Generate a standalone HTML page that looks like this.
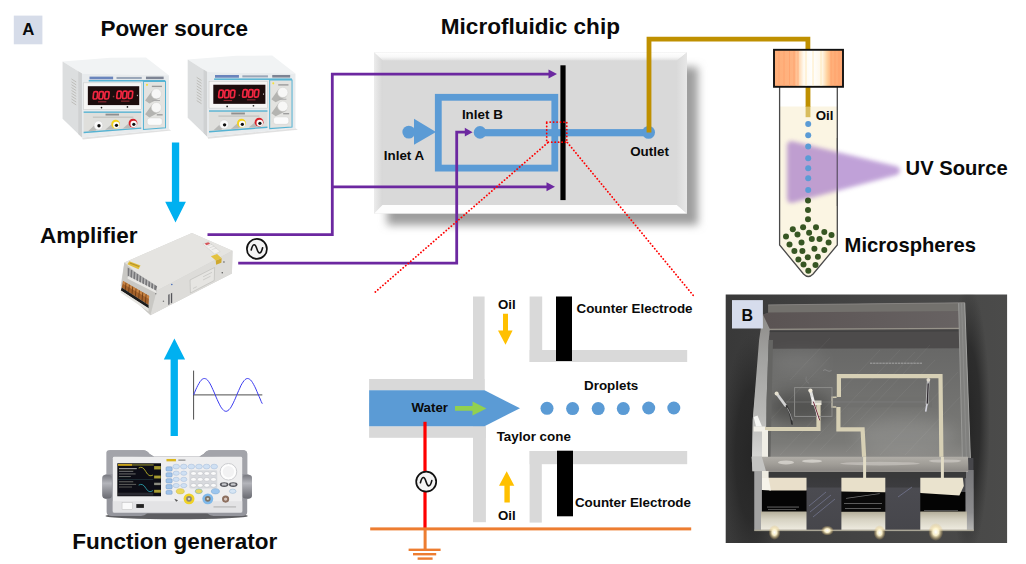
<!DOCTYPE html>
<html>
<head>
<meta charset="utf-8">
<title>Figure</title>
<style>
html,body{margin:0;padding:0;background:#fff;}
body{width:1026px;height:564px;overflow:hidden;position:relative;font-family:"Liberation Sans",sans-serif;}
svg{position:absolute;left:0;top:0;display:block;}
text{font-family:"Liberation Sans",sans-serif;font-weight:bold;fill:#0a0a0a;}
.t22{font-size:22px;}
.t20{font-size:20px;}
.t13{font-size:13.5px;}
.pl{fill:none;stroke:#6c28a0;stroke-width:2.8;}
</style>
</head>
<body>
<svg width="1026" height="564" viewBox="0 0 1026 564">
<defs>
  <filter id="blur3" x="-20%" y="-20%" width="140%" height="140%"><feGaussianBlur stdDeviation="3"/></filter>
  <filter id="blur4" x="-20%" y="-20%" width="140%" height="140%"><feGaussianBlur stdDeviation="4.5"/></filter>
  <filter id="blur2" x="-20%" y="-20%" width="140%" height="140%"><feGaussianBlur stdDeviation="1.9"/></filter>
  <filter id="blur8" x="-60%" y="-80%" width="220%" height="260%"><feGaussianBlur stdDeviation="8"/></filter>
  <filter id="blur1" x="-20%" y="-20%" width="140%" height="140%"><feGaussianBlur stdDeviation="0.6"/></filter>
  <linearGradient id="capg" x1="0" x2="1" y1="0" y2="0">
    <stop offset="0" stop-color="#ffae78"/>
    <stop offset="0.30" stop-color="#ffb482"/>
    <stop offset="0.37" stop-color="#ffdcb8"/>
    <stop offset="0.43" stop-color="#fffaf0"/>
    <stop offset="0.56" stop-color="#ffffff"/>
    <stop offset="0.70" stop-color="#fff6e4"/>
    <stop offset="0.77" stop-color="#ffd29e"/>
    <stop offset="0.83" stop-color="#ffb07a"/>
    <stop offset="1" stop-color="#ffa873"/>
  </linearGradient>
  <linearGradient id="bevR" x1="0" x2="1" y1="0" y2="0"><stop offset="0" stop-color="#dadada"/><stop offset="1" stop-color="#e7e7e7"/></linearGradient>
  <linearGradient id="hndl" x1="0" x2="0" y1="0" y2="1"><stop offset="0" stop-color="#7a7b82"/><stop offset="0.35" stop-color="#b4b5bb"/><stop offset="1" stop-color="#6a6b72"/></linearGradient>
  <linearGradient id="bandg" x1="0" x2="1" y1="0" y2="0"><stop offset="0" stop-color="#5a5353"/><stop offset="1" stop-color="#686363"/></linearGradient>
  <linearGradient id="bevL" x1="0" x2="1" y1="0" y2="0">
    <stop offset="0" stop-color="#ececec"/><stop offset="1" stop-color="#d7d7d7"/>
  </linearGradient>
  <linearGradient id="bevT" x1="0" x2="0" y1="0" y2="1">
    <stop offset="0" stop-color="#ffffff"/><stop offset="0.55" stop-color="#f8f8f8"/><stop offset="1" stop-color="#e0e0e0"/>
  </linearGradient>
  <g id="psu">
    <!-- drawn in zoom coords: scale 5.936, origin (55,50) -->
    <polygon points="160,519 676,470 690,478 165,532" fill="#c9c9c9" opacity="0.55"/>
    <polygon points="45,68 330,46 540,44 676,150 160,140" fill="#f1f3f4"/>
    <polygon points="45,68 160,140 160,519 45,408" fill="#dcdedf"/>
    <polygon points="138,126 160,140 160,519 138,498" fill="#cfd1d2"/>
    <g stroke="#b7b6b2" stroke-width="5">
      <line x1="98" y1="172" x2="126" y2="190"/><line x1="98" y1="189" x2="126" y2="207"/><line x1="98" y1="206" x2="126" y2="224"/>
      <line x1="98" y1="223" x2="126" y2="241"/><line x1="98" y1="240" x2="126" y2="258"/><line x1="98" y1="257" x2="126" y2="275"/>
      <line x1="98" y1="274" x2="126" y2="292"/><line x1="98" y1="291" x2="126" y2="309"/><line x1="98" y1="308" x2="126" y2="326"/>
    </g>
    <polygon points="160,140 676,150 676,470 160,519" fill="#e8ebed"/>
    <rect x="205" y="158" width="140" height="16" fill="#6a84bc"/>
    <rect x="365" y="160" width="150" height="12" fill="#9aa6b8"/>
    <rect x="540" y="158" width="105" height="15" fill="#7d8494"/>
    <rect x="200" y="178" width="455" height="9" fill="#55b3d3"/>
    <rect x="170" y="195" width="342" height="157" fill="#f6f6f5" stroke="#c8c8c6" stroke-width="3"/>
    <rect x="195" y="215" width="305" height="112" fill="#1c0b0d"/>
    <g fill="none" stroke="#f02840" stroke-width="10">
      <rect x="228" y="247" width="24" height="44" rx="9" transform="skewX(-6) translate(28,0)"/>
      <rect x="262" y="247" width="24" height="44" rx="9" transform="skewX(-6) translate(28,0)"/>
      <rect x="296" y="247" width="24" height="44" rx="9" transform="skewX(-6) translate(28,0)"/>
      <rect x="368" y="244" width="24" height="44" rx="9" transform="skewX(-6) translate(28,0)"/>
      <rect x="402" y="244" width="24" height="44" rx="9" transform="skewX(-6) translate(28,0)"/>
      <rect x="436" y="244" width="24" height="44" rx="9" transform="skewX(-6) translate(28,0)"/>
    </g>
    <rect x="343" y="272" width="9" height="9" fill="#8a3a40"/>
    <rect x="486" y="266" width="6" height="8" fill="#bbb"/>
    <rect x="255" y="304" width="50" height="7" fill="#8c2a33"/>
    <rect x="392" y="300" width="50" height="7" fill="#8c2a33"/>
    <circle cx="276" cy="342" r="5" fill="#222"/><circle cx="430" cy="338" r="5" fill="#222"/>
    <polygon points="170,365 512,365 512,468 170,494" fill="#dfdfdc"/>
    <rect x="170" y="365" width="342" height="8" fill="#55b3d3"/>
    <polygon points="170,486 512,460 512,468 170,494" fill="#55b3d3"/>
    <rect x="300" y="378" width="80" height="11" fill="#8f8f8f"/>
    <rect x="225" y="396" width="240" height="5" fill="#b5b5b2"/>
    <polygon points="196,482 258,425 282,447 240,480" fill="#b9b9b6"/>
    <polygon points="298,474 360,420 384,442 342,472" fill="#b9b9b6"/>
    <polygon points="402,466 464,414 486,436 444,464" fill="#b9b9b6"/>
    <circle cx="258" cy="447" r="26" fill="#fafafa" stroke="#cfcfcf" stroke-width="3"/><circle cx="261" cy="450" r="10" fill="#111"/>
    <circle cx="360" cy="440" r="26" fill="#f2d21f"/><circle cx="364" cy="445" r="19" fill="#fafafa"/><circle cx="365" cy="447" r="9.5" fill="#111"/>
    <circle cx="463" cy="434" r="26" fill="#d6232a"/><circle cx="467" cy="439" r="19" fill="#fafafa"/><circle cx="468" cy="441" r="9.5" fill="#111"/>
    <polygon points="525,187 656,187 656,462 525,472" fill="#e3e3e0" stroke="#55b3d3" stroke-width="6"/>
    <circle cx="546" cy="207" r="6" fill="#f4e23a"/>
    <rect x="575" y="212" width="60" height="8" fill="#9a9a9a"/>
    <polygon points="535,300 578,240 624,285 560,318" fill="#b4b4b1"/>
    <polygon points="535,382 578,322 624,367 560,400" fill="#b4b4b1"/>
    <circle cx="602" cy="260" r="30" fill="#f7f7f6" stroke="#d2d2d0" stroke-width="3"/>
    <circle cx="602" cy="341" r="30" fill="#f7f7f6" stroke="#d2d2d0" stroke-width="3"/>
    <rect x="578" y="297" width="45" height="6" fill="#aaa"/>
    <rect x="604" y="382" width="35" height="6" fill="#888"/>
    <rect x="547" y="403" width="90" height="44" rx="16" fill="#fbfbfb" stroke="#cfcfcd" stroke-width="3"/>
  </g>
</defs>

<!-- ============ SECTION: chip ============ -->
<g id="chip">
  <rect x="387" y="67" width="311" height="158" fill="#9e9e9e" filter="url(#blur4)"/>
  <rect x="374" y="52.5" width="313" height="161" fill="#d9d9d9"/>
  <polygon points="374,52.5 687,52.5 677,60.5 382.5,60.5" fill="url(#bevT)"/>
  <polygon points="374,52.5 382.5,60.5 382.5,205 374,213.5" fill="url(#bevL)"/>
  <polygon points="374,213.5 382.5,205 677,205 687,213.5" fill="#fdfdfd"/>
  <polygon points="687,52.5 687,213.5 677,205 677,60.5" fill="url(#bevR)"/>
</g>

<!-- ============ SECTION: channels ============ -->
<g id="channels">
  <rect x="438.3" y="97.3" width="116.5" height="70.8" fill="none" stroke="#5b9bd5" stroke-width="6.8"/>
  <rect x="480" y="129.1" width="169" height="7.2" fill="#5b9bd5"/>
  <circle cx="480" cy="132.4" r="6.3" fill="#5b9bd5"/>
  <circle cx="648.6" cy="132.4" r="6.4" fill="#5b9bd5"/>
  <circle cx="408.8" cy="132.1" r="6.4" fill="#5b9bd5"/>
  <polygon points="414,118.8 436,131.9 414,144.8" fill="#5b9bd5"/>
  <rect x="560.4" y="65.3" width="5.2" height="134.8" fill="#000"/>
</g>

<!-- ============ SECTION: wires ============ -->
<g id="wires">
  <polyline class="pl" points="207.5,234.7 332.3,234.7 332.3,74.1 551,74.1"/>
  <polyline class="pl" points="332.3,186.8 549,186.8"/>
  <polyline class="pl" points="238.2,263.2 456.7,263.2 456.7,132.2 467,132.2"/>
  <polygon points="548.5,69.6 557,74.1 548.5,78.6" fill="#6c28a0"/>
  <polygon points="546.5,182.3 555,186.8 546.5,191.3" fill="#6c28a0"/>
  <polygon points="464.8,127.8 472.6,132.2 464.8,136.6" fill="#6c28a0"/>
  <polyline points="649,132.4 649,39.2 807.9,39.2 807.9,106.6" fill="none" stroke="#bf9000" stroke-width="4.8" stroke-linejoin="miter"/>
</g>

<!-- ============ SECTION: reddots ============ -->
<g id="reddots" fill="none" stroke="#ff0000" stroke-width="1.8" stroke-linecap="round" stroke-dasharray="0.1 3.25">
  <rect x="546.7" y="122.1" width="20.1" height="20.1" stroke-dasharray="0.1 3.35"/>
  <line x1="547.6" y1="142.8" x2="373" y2="294"/>
  <line x1="567.4" y1="142.6" x2="694.4" y2="296.8"/>
</g>

<!-- ============ SECTION: tube ============ -->
<g id="tube">
  <!-- tube body -->
  <path d="M779.6,87 L779.6,245 L803.5,274 Q808.3,279 813.1,274 L837.3,245 L837.3,87 Z" fill="#ffffff"/>
  <path d="M779.6,106.6 L779.6,245 L803.5,274 Q808.3,279 813.1,274 L837.3,245 L837.3,106.6 Z" fill="#fbf5e3"/>
  <path d="M779.6,87 L779.6,245 L803.5,274 Q808.3,279 813.1,274 L837.3,245 L837.3,87" fill="none" stroke="#4a4a4a" stroke-width="1.3"/>
  <!-- gold tube inside -->
  <rect x="805.6" y="86" width="4.8" height="21" fill="#bf9000"/>
  <rect x="805.6" y="106.6" width="4.8" height="10.6" fill="#d9bd5e"/>
  <!-- cap -->
  <rect x="774" y="49.8" width="69" height="37" fill="url(#capg)" stroke="#111" stroke-width="1.9"/>
  <g stroke="#ff9d66" stroke-width="0.9" opacity="0.7">
    <line x1="779" y1="51" x2="779" y2="86"/><line x1="784" y1="51" x2="784" y2="86"/>
    <line x1="789.5" y1="51" x2="789.5" y2="86"/><line x1="794" y1="51" x2="794" y2="86"/>
    <line x1="798" y1="51" x2="798" y2="86"/><line x1="831" y1="51" x2="831" y2="86"/>
    <line x1="835" y1="51" x2="835" y2="86"/><line x1="839" y1="51" x2="839" y2="86"/>
  </g>
  <g stroke="#ffe6b0" stroke-width="0.9" opacity="0.9">
    <line x1="806" y1="51" x2="806" y2="86"/><line x1="813" y1="51" x2="813" y2="86"/><line x1="821" y1="51" x2="821" y2="86"/>
  </g>
  <!-- UV triangle -->
  <g opacity="0.70" filter="url(#blur2)"><polygon points="791.5,145.5 791.5,198.5 895.5,170.6" fill="#a67ac8" stroke="#a67ac8" stroke-width="9" stroke-linejoin="round"/></g>
  <line x1="837.3" y1="138" x2="837.3" y2="206" stroke="#4a4a4a" stroke-width="1.3" opacity="0.55"/>
  <!-- blue dots -->
  <g fill="#5b9bd5">
    <circle cx="808.2" cy="124" r="3"/><circle cx="808.2" cy="135.2" r="3"/><circle cx="808.2" cy="146.5" r="3"/>
    <circle cx="808.2" cy="158.2" r="3"/><circle cx="808.2" cy="168.3" r="3"/><circle cx="808.2" cy="178.2" r="3"/>
    <circle cx="808.2" cy="190" r="3"/>
  </g>
  <!-- green dots -->
  <g fill="#375623">
    <circle cx="808.0" cy="200.6" r="3"/><circle cx="808.0" cy="209.9" r="3"/><circle cx="808.0" cy="219.3" r="3"/><circle cx="803.1" cy="227.3" r="3"/><circle cx="816.0" cy="227.3" r="3"/><circle cx="792.8" cy="229.3" r="3"/><circle cx="809.1" cy="232.8" r="3"/><circle cx="824.3" cy="232.0" r="3"/><circle cx="797.5" cy="234.6" r="3"/><circle cx="831.5" cy="234.9" r="3"/><circle cx="786.0" cy="236.5" r="3"/><circle cx="811.8" cy="238.9" r="3"/><circle cx="819.5" cy="238.9" r="3"/><circle cx="801.5" cy="242.4" r="3"/><circle cx="828.6" cy="242.4" r="3"/><circle cx="789.5" cy="244.5" r="3"/><circle cx="814.4" cy="248.8" r="3"/><circle cx="824.3" cy="250.1" r="3"/><circle cx="794.4" cy="250.9" r="3"/><circle cx="802.4" cy="250.9" r="3"/><circle cx="807.8" cy="257.3" r="3"/><circle cx="817.9" cy="256.8" r="3"/><circle cx="798.4" cy="259.4" r="3"/><circle cx="803.5" cy="264.5" r="3"/><circle cx="815.5" cy="264.9" r="3"/><circle cx="808.3" cy="270.8" r="3"/>
  </g>
</g>

<!-- ============ SECTION: detail ============ -->
<g id="detail">
  <!-- gray walls -->
  <g fill="#d9d9d9">
    <rect x="473" y="296.5" width="11.6" height="93.8"/>
    <rect x="369.1" y="379" width="115.5" height="11.4"/>
    <rect x="473" y="426.2" width="12.9" height="96"/>
    <rect x="369.1" y="426.2" width="116.8" height="11.6"/>
    <rect x="529.6" y="296.5" width="12.6" height="65.5"/>
    <rect x="529.6" y="350" width="157.6" height="12"/>
    <rect x="529.6" y="451" width="157.6" height="13.2"/>
    <rect x="529.6" y="451" width="12.2" height="71.6"/>
  </g>
  <!-- water -->
  <polygon points="369.1,390.3 484.5,390.3 520,408.3 484.5,426.2 369.1,426.2" fill="#5b9bd5"/>
  <!-- electrodes -->
  <rect x="556" y="296.5" width="16" height="64.5" fill="#000"/>
  <rect x="557" y="450.7" width="16" height="65.6" fill="#000"/>
  <!-- droplets -->
  <g fill="#5b9bd5">
    <circle cx="547" cy="408.3" r="6.5"/><circle cx="572.6" cy="408.6" r="6.5"/><circle cx="598.2" cy="408.6" r="6.5"/>
    <circle cx="623.3" cy="408.6" r="6.5"/><circle cx="648.7" cy="408" r="6.5"/><circle cx="673.8" cy="408" r="6.5"/>
  </g>
  <!-- oil arrows -->
  <polygon points="503,313.7 508,313.7 508,330.5 512.6,330.5 505.5,344.8 498,330.5 503,330.5" fill="#ffc000"/>
  <polygon points="504.4,502.6 509.8,502.6 509.8,485.8 514.3,485.8 506.7,471.2 499,485.8 504.4,485.8" fill="#ffc000"/>
  <!-- green arrow -->
  <polygon points="455,405.9 472.5,405.9 472.5,401.6 486.4,408.4 472.5,415.4 472.5,410.8 455,410.8" fill="#92d050"/>
  <!-- red line, orange ground -->
  <rect x="423.4" y="421.8" width="3.2" height="107" fill="#ff0000"/>
  <rect x="370.2" y="527.4" width="321" height="3" fill="#ed7d31"/>
  <rect x="423.6" y="530" width="3" height="19" fill="#ed7d31"/>
  <rect x="408.6" y="548.6" width="32" height="2.4" fill="#ed7d31"/>
  <rect x="413" y="553" width="23.2" height="2.4" fill="#ed7d31"/>
  <rect x="417.6" y="557.4" width="15" height="2.4" fill="#ed7d31"/>
  <!-- sine circle -->
  <circle cx="426.2" cy="481.7" r="10" fill="#f4f4f4" stroke="#111" stroke-width="1.7"/>
  <path d="M420.4,482.8 C422,476.2 424.4,475.8 426.1,481.7 C427.8,487.6 430.2,487.2 431.8,480.6" fill="none" stroke="#111" stroke-width="1.6" stroke-linecap="round"/>
</g>

<!-- ============ SECTION: left ============ -->
<g id="left">
  <!-- arrows -->
  <polygon points="171.9,142.6 179.2,142.6 179.2,201.8 185.9,201.8 175.5,222.5 165.2,201.8 171.9,201.8" fill="#00b0f0"/>
  <polygon points="170.6,436 177.9,436 177.9,359.4 185.1,359.4 174.4,338.5 163.8,359.4 170.6,359.4" fill="#00b0f0"/>
  <!-- sine graph -->
  <line x1="193.6" y1="370.6" x2="193.6" y2="419.6" stroke="#3a3a3a" stroke-width="0.9"/>
  <line x1="193.6" y1="394.9" x2="262.3" y2="394.9" stroke="#3a3a3a" stroke-width="0.9"/>
  <path d="M193.6,394.9 L194.7,392.3 L195.7,389.9 L196.8,387.5 L197.9,385.3 L199.0,383.4 L200.0,381.7 L201.1,380.3 L202.2,379.3 L203.3,378.7 L204.3,378.5 L205.4,378.7 L206.5,379.2 L207.6,380.2 L208.6,381.5 L209.7,383.1 L210.8,385.1 L211.8,387.2 L212.9,389.6 L214.0,392.0 L215.1,394.6 L216.1,397.1 L217.2,399.6 L218.3,402.0 L219.4,404.2 L220.4,406.2 L221.5,407.9 L222.6,409.3 L223.7,410.4 L224.7,411.0 L225.8,411.3 L226.9,411.2 L227.9,410.6 L229.0,409.7 L230.1,408.5 L231.2,406.9 L232.2,405.0 L233.3,402.9 L234.4,400.5 L235.5,398.1 L236.5,395.5 L237.6,393.0 L238.7,390.5 L239.8,388.1 L240.8,385.8 L241.9,383.8 L243.0,382.1 L244.1,380.6 L245.1,379.6 L246.2,378.8 L247.3,378.5 L248.3,378.6 L249.4,379.1 L250.5,379.9 L251.6,381.2 L252.6,382.7 L253.7,384.6 L254.8,386.7 L255.9,389.0 L256.9,391.4 L258.0,394.0 L259.1,396.5 L260.2,399.0 L261.2,401.5 L262.3,403.7" fill="none" stroke="#3b3bf0" stroke-width="1"/>
  <!-- sine circle -->
  <circle cx="256.9" cy="248.9" r="10" fill="#f4f4f4" stroke="#111" stroke-width="1.7"/>
  <path d="M251.2,250 C252.8,243.4 255.2,243 256.9,248.9 C258.6,254.8 261,254.4 262.6,247.8" fill="none" stroke="#111" stroke-width="1.6" stroke-linecap="round"/>
  <!-- devices -->
  <g id="psu1" filter="url(#blur1)">
    <use href="#psu" transform="translate(55,50) scale(0.16846)"/>
    <use href="#psu" transform="translate(180,48) scale(0.1708)"/>
  </g>
  <g id="amp" filter="url(#blur1)" transform="translate(110,220) scale(0.18618)">
    <polygon points="57,355 207,490 217,512 655,287 658,165 440,70 77,228" fill="#d4d4d1"/>
    <polygon points="77,228 440,70 658,165 250,380" fill="#e5e4e1"/>
    <polygon points="250,380 658,165 655,287 217,512" fill="#dddcd9"/>
    <polygon points="77,228 250,380 217,512 60,365" fill="#c9c8c4"/>
    <!-- grille -->
    <polygon points="95,255 253,356 247,383 95,305" fill="#77777a"/>
    <g stroke="#dcdcd9" stroke-width="5">
      <line x1="108" y1="262" x2="106" y2="312"/><line x1="124" y1="272" x2="122" y2="320"/><line x1="140" y1="282" x2="138" y2="328"/>
      <line x1="156" y1="292" x2="154" y2="336"/><line x1="172" y1="302" x2="170" y2="344"/><line x1="188" y1="312" x2="186" y2="352"/>
      <line x1="204" y1="322" x2="202" y2="360"/><line x1="220" y1="332" x2="218" y2="368"/><line x1="236" y1="342" x2="234" y2="376"/>
    </g>
    <polygon points="95,300 247,378 247,392 95,316" fill="#e9e8e5"/>
    <!-- terminal block -->
    <polygon points="70,328 210,408 207,456 63,362" fill="#a5622b"/>
    <polygon points="70,328 210,408 209,424 69,343" fill="#c98443"/>
    <polygon points="63,362 207,456 207,474 58,378" fill="#1f1d1b"/>
    <g stroke="#5e3312" stroke-width="4">
      <line x1="86" y1="338" x2="82" y2="376"/><line x1="104" y1="348" x2="100" y2="388"/><line x1="122" y1="358" x2="118" y2="399"/>
      <line x1="140" y1="369" x2="136" y2="411"/><line x1="158" y1="379" x2="154" y2="423"/><line x1="176" y1="389" x2="172" y2="434"/>
      <line x1="194" y1="399" x2="190" y2="446"/>
    </g>
    <polygon points="58,378 207,474 207,492 56,390" fill="#e6e5e1"/>
    <!-- labels -->
    <polygon points="104,221 164,244 153,264 93,238" fill="#e0bd3c"/>
    <polygon points="108,228 158,247 155,252 105,233" fill="#b8932a"/>
    <polygon points="542,195 575,183 600,205 568,218" fill="#e3c241"/>
    <polygon points="568,218 600,205 598,230 570,240" fill="#cfa92e"/>
    <polygon points="498,128 530,117 592,170 562,183" fill="#f1f0ee" stroke="#c4c4c1" stroke-width="2"/>
    <polygon points="508,126 528,119 538,128 518,135" fill="#d6545a"/>
    <g stroke="#b9b9b6" stroke-width="2"><line x1="522" y1="140" x2="548" y2="130"/><line x1="534" y1="150" x2="560" y2="140"/><line x1="546" y1="160" x2="572" y2="150"/></g>
    <polygon points="430,322 562,255 560,325 432,392" fill="#e6e5e2" stroke="#b7b6b3" stroke-width="3"/>
    <g stroke="#b0afac" stroke-width="2.5"><line x1="500" y1="305" x2="548" y2="281"/><line x1="500" y1="322" x2="540" y2="302"/><line x1="446" y1="368" x2="466" y2="358"/></g>
    <polygon points="313,402 320,398 320,452 313,456" fill="#55555a"/>
    <polygon points="327,395 334,391 334,445 327,449" fill="#55555a"/>
    <circle cx="287" cy="437" r="4" fill="#777"/><circle cx="246" cy="396" r="3.5" fill="#777"/>
    <circle cx="332" cy="347" r="4" fill="#3a62b8"/><circle cx="612" cy="225" r="4" fill="#555"/><circle cx="603" cy="283" r="4" fill="#555"/>
  </g>
    <g id="fgen" filter="url(#blur1)" transform="translate(90,430) scale(0.23747)">
    <ellipse cx="365" cy="362" rx="300" ry="14" fill="#2a2a2c" opacity="0.75"/>
    <!-- bumpers -->
    <path d="M70,95 Q70,85 85,85 L225,85 Q240,85 250,100 L270,112 L460,112 L480,100 Q490,85 505,85 L645,85 Q662,85 662,100 L662,185 Q682,190 682,210 L682,270 Q682,288 662,292 L662,345 Q662,362 640,362 L520,362 Q505,362 495,352 L240,352 Q230,362 215,362 L92,362 Q70,362 70,345 L70,292 Q52,288 52,270 L52,210 Q52,190 70,185 Z" fill="#95969d"/>
    <rect x="52" y="190" width="40" height="98" rx="12" fill="url(#hndl)"/>
    <rect x="642" y="190" width="40" height="98" rx="12" fill="url(#hndl)"/>
    <path d="M70,95 Q70,85 85,85 L225,85 Q240,85 250,100 L262,110 L96,118 L96,185 L70,185 Z" fill="#a3a4aa"/>
    <path d="M662,100 Q662,85 645,85 L505,85 Q490,85 480,100 L468,110 L640,118 L640,185 L662,185 Z" fill="#a3a4aa"/>
    <!-- panel -->
    <rect x="96" y="113" width="545" height="234" rx="6" fill="#eeeeef"/>
    <rect x="96" y="300" width="545" height="47" fill="#e3e3e5"/>
    <!-- screen -->
    <rect x="115" y="140" width="184" height="139" fill="#101114"/>
    <rect x="118" y="143" width="60" height="8" fill="#c9a21a"/><rect x="178" y="144" width="90" height="6" fill="#6f6a2a"/>
    <rect x="270" y="152" width="28" height="14" fill="#a89c30"/>
    <rect x="270" y="192" width="28" height="12" fill="#a89c30"/><rect x="270" y="222" width="28" height="10" fill="#8a8a80"/>
    <rect x="270" y="252" width="28" height="12" fill="#a89c30"/>
    <rect x="122" y="160" width="75" height="5" fill="#9a9a9a"/><rect x="122" y="172" width="60" height="4" fill="#777"/><rect x="122" y="183" width="70" height="4" fill="#6d6d6d"/><rect x="122" y="194" width="50" height="4" fill="#666"/>
    <rect x="118" y="207" width="148" height="2" fill="#2a4a52"/>
    <rect x="122" y="216" width="60" height="4" fill="#6a6a6a"/><rect x="122" y="227" width="72" height="4" fill="#606060"/><rect x="122" y="238" width="55" height="4" fill="#5a5a5a"/>
    <path d="M205,160 Q222,150 235,175 Q248,200 265,190" fill="none" stroke="#c0b82c" stroke-width="3.5"/>
    <path d="M205,232 Q222,222 235,245 Q248,268 265,255" fill="none" stroke="#2aa2b8" stroke-width="3.5"/>
    <rect x="118" y="264" width="148" height="12" fill="#2a2b30"/>
    <!-- usb -->
    <rect x="135" y="305" width="45" height="30" fill="#fafafa" stroke="#bbb" stroke-width="2"/>
    <rect x="195" y="312" width="32" height="16" fill="#222"/>
    <!-- blue soft keys -->
    <g fill="#9ec2ea" stroke="#6f95c4" stroke-width="2">
      <rect x="320" y="155" width="26" height="18" rx="5"/><rect x="320" y="180" width="26" height="18" rx="5"/>
      <rect x="320" y="205" width="26" height="18" rx="5"/><rect x="320" y="230" width="26" height="18" rx="5"/>
      <rect x="320" y="255" width="26" height="16" rx="5"/>
    </g>
    <!-- logo -->
    <rect x="322" y="122" width="40" height="10" fill="#d9b51e"/>
    <rect x="372" y="124" width="30" height="6" fill="#9a9a9a"/>
    <!-- top function buttons -->
    <g fill="#cfe0f3" stroke="#9fb7d6" stroke-width="2">
      <ellipse cx="363" cy="154" rx="14" ry="10"/><ellipse cx="395" cy="154" rx="14" ry="10"/><ellipse cx="427" cy="154" rx="14" ry="10"/>
      <ellipse cx="459" cy="154" rx="14" ry="10"/><ellipse cx="491" cy="154" rx="14" ry="10"/><ellipse cx="523" cy="154" rx="14" ry="10"/>
      <ellipse cx="363" cy="182" rx="13" ry="9"/><ellipse cx="395" cy="182" rx="13" ry="9"/>
      <ellipse cx="363" cy="208" rx="13" ry="9"/><ellipse cx="395" cy="208" rx="13" ry="9"/>
      <ellipse cx="363" cy="234" rx="13" ry="9"/><ellipse cx="395" cy="234" rx="13" ry="9"/>
    </g>
    <!-- keypad -->
    <rect x="418" y="170" width="118" height="76" rx="6" fill="#d8dade"/>
    <g fill="#fbfbfb" stroke="#b5b7bd" stroke-width="2">
      <ellipse cx="436" cy="183" rx="12" ry="8"/><ellipse cx="464" cy="183" rx="12" ry="8"/><ellipse cx="492" cy="183" rx="12" ry="8"/><ellipse cx="520" cy="183" rx="12" ry="8"/>
      <ellipse cx="436" cy="208" rx="12" ry="8"/><ellipse cx="464" cy="208" rx="12" ry="8"/><ellipse cx="492" cy="208" rx="12" ry="8"/><ellipse cx="520" cy="208" rx="12" ry="8"/>
      <ellipse cx="436" cy="233" rx="12" ry="8"/><ellipse cx="464" cy="233" rx="12" ry="8"/><ellipse cx="492" cy="233" rx="12" ry="8"/><ellipse cx="520" cy="233" rx="12" ry="8"/>
    </g>
    <!-- knob -->
    <circle cx="583" cy="176" r="35" fill="#fdfdfd" stroke="#c9cace" stroke-width="4"/>
    <circle cx="583" cy="176" r="24" fill="#f2f2f3"/>
    <ellipse cx="565" cy="230" rx="18" ry="10" fill="#55565c"/><ellipse cx="603" cy="230" rx="18" ry="10" fill="#55565c"/>
    <ellipse cx="565" cy="229" rx="11" ry="5" fill="#c8c9cd"/><ellipse cx="603" cy="229" rx="11" ry="5" fill="#c8c9cd"/>
    <!-- lower buttons -->
    <ellipse cx="380" cy="258" rx="17" ry="11" fill="#ecd85a" stroke="#c9b43a" stroke-width="2"/>
    <ellipse cx="458" cy="258" rx="15" ry="10" fill="#e9d75d" stroke="#58a6c9" stroke-width="2"/>
    <ellipse cx="528" cy="258" rx="17" ry="11" fill="#9dc6ee" stroke="#6f9fcd" stroke-width="2"/>
    <ellipse cx="601" cy="258" rx="14" ry="9" fill="#d6e5f4" stroke="#8fb0d0" stroke-width="2"/>
    <!-- BNCs -->
    <circle cx="417" cy="290" r="23" fill="#f0d227"/><circle cx="417" cy="290" r="12" fill="#8b8678"/><circle cx="417" cy="290" r="5" fill="#d8d4c8"/>
    <circle cx="496" cy="290" r="23" fill="#7fb9ea"/><circle cx="496" cy="290" r="12" fill="#7d7468"/><circle cx="496" cy="290" r="5" fill="#d8d4c8"/>
    <circle cx="571" cy="291" r="15" fill="#8d6f5f"/><circle cx="571" cy="291" r="7" fill="#d8c8c0"/>
    <path d="M355,290 l16,6 l-8,6 z" fill="#555"/>
    <rect x="520" y="322" width="95" height="4" fill="#aaa"/>
  </g>
</g>

<!-- ============ SECTION: photo ============ -->
<g id="photo">
  <clipPath id="pclip"><rect x="725.7" y="294.4" width="281.4" height="248.6"/></clipPath>
  <linearGradient id="bgp" x1="0" x2="1" y1="0" y2="0"><stop offset="0" stop-color="#393939"/><stop offset="0.5" stop-color="#444444"/><stop offset="1" stop-color="#4b4b4a"/></linearGradient>
  <linearGradient id="lface" x1="0" x2="0" y1="0" y2="1"><stop offset="0" stop-color="#8d8b88"/><stop offset="0.3" stop-color="#a2a2a0"/><stop offset="0.7" stop-color="#b8b8b6"/><stop offset="1" stop-color="#d6d6d4"/></linearGradient>
  <linearGradient id="ffront" x1="0" x2="0" y1="0" y2="1"><stop offset="0" stop-color="#b0ada7"/><stop offset="0.5" stop-color="#a19e98"/><stop offset="1" stop-color="#8b8884"/></linearGradient>
  <linearGradient id="topf" x1="0" x2="0" y1="0" y2="1"><stop offset="0" stop-color="#666666"/><stop offset="0.3" stop-color="#686867"/><stop offset="0.9" stop-color="#7a7a77"/><stop offset="1" stop-color="#898885"/></linearGradient>
  <linearGradient id="strip" x1="0" x2="0" y1="0" y2="1"><stop offset="0" stop-color="#b4ae9a"/><stop offset="0.4" stop-color="#d6d2c2"/><stop offset="1" stop-color="#f0ede2"/></linearGradient>
  <linearGradient id="gapg" x1="0" x2="0" y1="0" y2="1"><stop offset="0" stop-color="#39393b"/><stop offset="0.17" stop-color="#3c3c3f"/><stop offset="0.2" stop-color="#4b4b51"/><stop offset="1" stop-color="#46464b"/></linearGradient>
  <linearGradient id="rsh" x1="0" x2="1" y1="0" y2="0"><stop offset="0" stop-color="#2c2c2c"/><stop offset="1" stop-color="#2c2c2c" stop-opacity="0"/></linearGradient>
  <linearGradient id="lsh" x1="1" x2="0" y1="0" y2="0"><stop offset="0" stop-color="#242424"/><stop offset="0.6" stop-color="#2a2a2a" stop-opacity="0.8"/><stop offset="1" stop-color="#2c2c2c" stop-opacity="0"/></linearGradient>
  <linearGradient id="sre" x1="0" x2="0" y1="0" y2="1"><stop offset="0" stop-color="#77777a"/><stop offset="0.7" stop-color="#8c8c8e"/><stop offset="1" stop-color="#b8b8b6"/></linearGradient>
  <radialGradient id="lshr"><stop offset="0" stop-color="#262626"/><stop offset="0.55" stop-color="#282828" stop-opacity="0.85"/><stop offset="1" stop-color="#2c2c2c" stop-opacity="0"/></radialGradient>
  <radialGradient id="glare"><stop offset="0" stop-color="#ffffff"/><stop offset="0.4" stop-color="#fff6d0" stop-opacity="0.95"/><stop offset="1" stop-color="#e0b860" stop-opacity="0"/></radialGradient>
  <g clip-path="url(#pclip)">
    <rect x="725" y="294" width="283" height="250" fill="url(#bgp)"/>
    <ellipse cx="968" cy="420" rx="22" ry="135" fill="url(#lshr)"/>
    <ellipse cx="752" cy="455" rx="30" ry="120" fill="url(#lshr)"/>
    <!-- glass slide -->
    <polygon points="754.3,458 973.4,458 973.8,530.6 754.3,530.6" fill="#47474b"/>
    <polygon points="754.3,470 762,470 762,530.6 754.3,530.6" fill="#a3a3a3"/>
    <polygon points="965.3,470 973.6,470 973.8,530.6 965.6,530.6" fill="url(#sre)"/>
    <!-- PDMS block top face -->
    <polygon points="768.2,304.9 964.7,302.8 970.4,458 752,458 752.7,420 762.9,314.6 768.2,313" fill="url(#topf)"/>
    <polygon points="769.8,329.4 962,328.6 962.8,348.3 768.6,348.8" fill="#4d4b4b"/>
    <polygon points="768.2,304.9 964.7,302.8 965.6,328.4 763,329 762.9,314.6 768.2,313" fill="url(#bandg)"/>
    <polygon points="768.2,304.9 964.7,302.8 964.9,311 768.2,312.4" fill="#73716d"/>
    <line x1="763" y1="329.3" x2="965.6" y2="328.4" stroke="#97938a" stroke-width="1.2"/>
    <line x1="768" y1="331.6" x2="962" y2="330.8" stroke="#3e3e3e" stroke-width="1"/>
    <ellipse cx="798" cy="362" rx="28" ry="10" fill="#ffffff" opacity="0.08" filter="url(#blur8)"/><ellipse cx="800" cy="408" rx="34" ry="16" fill="#000000" opacity="0.28" filter="url(#blur8)"/><ellipse cx="905" cy="436" rx="50" ry="18" fill="#ffffff" opacity="0.12" filter="url(#blur8)"/>
    <!-- channel band -->
    <rect x="832" y="396.7" width="100" height="10.6" fill="#70706e"/>
    <!-- streaks -->
    <g stroke="#ffffff" stroke-width="0.8" opacity="0.055">
      <line x1="780" y1="455" x2="880" y2="350"/><line x1="800" y1="455" x2="900" y2="350"/><line x1="846" y1="452" x2="935" y2="360"/>
      <line x1="880" y1="455" x2="958" y2="372"/><line x1="905" y1="455" x2="960" y2="397"/><line x1="770" y1="420" x2="830" y2="357"/>
      <line x1="860" y1="420" x2="930" y2="345"/><line x1="790" y1="380" x2="830" y2="338"/><line x1="820" y1="450" x2="915" y2="352"/>
    </g>
    <!-- left face -->
    <polygon points="762.9,314.6 769.8,329 768.7,340 766.6,400 766,458 752,458 752.7,420 759.1,340" fill="url(#lface)"/>
    <polygon points="768.7,340 773,340 770.5,458 766,458 766.6,400" fill="#656563"/>
    <!-- right face -->
    <polygon points="958.6,303 964.7,302.8 970.4,458 962.4,458" fill="#80807e"/>
    <line x1="958.6" y1="303" x2="962.4" y2="458" stroke="#9c9c9a" stroke-width="0.9"/>
    <line x1="961.6" y1="303" x2="966.4" y2="458" stroke="#929290" stroke-width="0.7"/>
    <line x1="964.7" y1="302.8" x2="970.4" y2="458" stroke="#a8a8a6" stroke-width="0.9"/>
    <line x1="768.2" y1="304.9" x2="964.7" y2="302.8" stroke="#8d8a88" stroke-width="0.8"/>
    <!-- traces -->
    <g fill="none" stroke="#d7d0b5" stroke-width="4.2" stroke-linejoin="miter">
      <polyline points="838.9,397 838.9,376.2 940.5,376.2 941.4,459"/>
      <polyline points="838.4,407 838.4,429.4 862.6,429.4 864.2,459"/>
      <polyline points="753.8,429 818.5,429 818.5,402"/>
    </g>
    <polyline points="765,430 765,459" stroke="#f0eee6" stroke-width="6" fill="none"/>
    <polygon points="753.8,426.6 765,426.6 765,431.4 753.8,431.4" fill="#f3f1ea"/>
    <polygon points="753.6,417 757.5,415.6 762,426.6 756,426.6" fill="#f7f7f4"/>
    <rect x="811.5" y="400.6" width="10" height="4.4" fill="#ece8da"/>
    <g fill="none" stroke="#cfc9b0" stroke-width="1.5">
      <polyline points="836.6,397.2 832,397.2 832,407.1 836.2,407.1"/>
    </g>
    <!-- channel line + small square -->
    <line x1="833" y1="402" x2="930" y2="402" stroke="#7b7b7b" stroke-width="0.9"/>
    <rect x="794.6" y="387.6" width="37.4" height="28.8" fill="none" stroke="#8f8f8d" stroke-width="0.9"/>
    <line x1="786" y1="402" x2="832" y2="402" stroke="#7f7f7d" stroke-width="0.6"/>
    <path d="M823,370.6 q2,-2 4,0 q2,1.4 4.6,0" stroke="#8d8d8d" stroke-width="0.8" fill="none"/>
    <path d="M806.4,376.6 q-1.6,5 2.6,6.6" stroke="#7f7f7f" stroke-width="0.8" fill="none"/>
    <!-- pins -->
    <g stroke-linecap="round" fill="none">
      <path d="M777,394 L785.5,405.5" stroke="#d2d2d2" stroke-width="2.8"/>
      <path d="M786.5,406 Q790.5,412 792,424" stroke="#303030" stroke-width="1.7"/>
      <path d="M787.4,408 Q790.8,414 792.2,420" stroke="#bdbdbd" stroke-width="0.7"/>
      <path d="M810.6,390.8 L814,404" stroke="#dedede" stroke-width="3"/>
      <path d="M812.4,398 L818.8,419" stroke="#f4f2f2" stroke-width="1.8"/>
      <path d="M813.5,402 L819.6,420" stroke="#6a2432" stroke-width="1"/>
      <path d="M928.3,380.4 L927,404" stroke="#b9b9b9" stroke-width="2.8"/>
      <path d="M928.2,384 L927.3,403" stroke="#2f2a30" stroke-width="1.3"/>
      <path d="M926.8,405 L925.8,411" stroke="#d4d4de" stroke-width="1.6"/>
    </g>
    <circle cx="776.6" cy="393.6" r="2" fill="#e6e1d0"/><circle cx="810.4" cy="390.6" r="2.1" fill="#efe9da"/><circle cx="928.4" cy="379.8" r="1.9" fill="#dcd7ca"/>
    <!-- tiny text line -->
    <line x1="870" y1="363.2" x2="922" y2="363.2" stroke="#b0b0b0" stroke-width="1" stroke-dasharray="2.4 0.7" opacity="0.85"/>
    <!-- under-block shadow band -->
    <rect x="762" y="470.6" width="204" height="7.6" fill="#39393a"/>
    <!-- front face of block -->
    <polygon points="751.7,456.8 968,456.8 968.4,471.2 752.4,471.2" fill="url(#ffront)"/>
    <polygon points="751.7,456.8 761.9,456.8 766,471.2 752.4,471.2" fill="#c4c4c2"/>
    <ellipse cx="786" cy="462.4" rx="8" ry="2" fill="#f3f0ea" opacity="0.55" filter="url(#blur1)"/>
    <ellipse cx="812" cy="461.2" rx="10" ry="1.6" fill="#f8f6f0" opacity="0.5" filter="url(#blur1)"/>
    <ellipse cx="880" cy="463.6" rx="40" ry="1.8" fill="#cfccc6" opacity="0.6"/>
    <ellipse cx="945" cy="461" rx="16" ry="1.6" fill="#d8d5d0" opacity="0.55"/>
    <line x1="762" y1="471.4" x2="968" y2="471.4" stroke="#b9b6ae" stroke-width="0.9" opacity="0.8"/>
    <!-- traces below block to pads -->
    <g fill="none" stroke="#e2dcc6" stroke-width="3">
      <line x1="864.6" y1="457" x2="864.6" y2="479"/><line x1="942.4" y1="457" x2="942.4" y2="479"/>
    </g>
    <rect x="762" y="471" width="6.6" height="8" fill="#efece2"/>
    <!-- gaps between pads (glass) -->
    <rect x="806.5" y="477.8" width="34.9" height="52.8" fill="url(#gapg)"/>
    <rect x="885.3" y="477.8" width="35" height="52.8" fill="url(#gapg)"/>
    <!-- pads -->
    <rect x="761.9" y="490" width="44.6" height="22" fill="#050505"/>
    <rect x="841.4" y="491" width="43.9" height="21" fill="#0a0a0a"/>
    <rect x="920.3" y="492" width="45" height="20" fill="#040404"/>
    <polygon points="762,477.8 806.5,477.8 806.5,490.6 769.5,490.4" fill="#e9dfca"/>
    <polygon points="762,477.8 768.6,477.8 771,490.4 762,490" fill="#f6f3ea"/>
    <polygon points="841.4,477.8 885.3,477.8 885.3,492.2 841.4,491.6" fill="#e8e0ca"/>
    <polygon points="920.3,477.8 962.8,477.8 963.8,486 959.4,495.6 920.3,493" fill="#eae3ce"/>
    <rect x="761" y="511.5" width="45.5" height="19.2" fill="url(#strip)"/>
    <rect x="841.4" y="511.8" width="43.9" height="18.9" fill="url(#strip)"/>
    <rect x="920.3" y="511.5" width="46.6" height="19.2" fill="url(#strip)"/>
    <!-- speckle in black zones -->
    <g fill="#d8d8d8" opacity="0.5">
      <rect x="767" y="506.6" width="32" height="0.9"/><rect x="768" y="509" width="28" height="0.7"/>
      <rect x="846" y="496" width="34" height="0.7" transform="rotate(-8 861 497)"/>
      <rect x="844" y="503" width="38" height="0.8"/><rect x="845" y="508" width="36" height="0.8"/><rect x="924" y="510" width="34" height="0.7"/>
    </g>
    <g stroke="#a8aede" stroke-width="0.7" opacity="0.5">
      <line x1="809" y1="506" x2="826" y2="492"/><line x1="810" y1="512" x2="831" y2="495"/><line x1="813" y1="517" x2="835" y2="499"/>
      <line x1="898" y1="497" x2="912" y2="487"/>
    </g>
    <!-- bottom edge + glare -->
    <rect x="754.3" y="529.6" width="219.5" height="1.5" fill="#aaa696"/>
    <ellipse cx="774.5" cy="532.4" rx="6" ry="7.5" fill="url(#glare)"/>
    <ellipse cx="827.3" cy="530.6" rx="6.5" ry="5" fill="url(#glare)"/>
    <ellipse cx="879.6" cy="532.6" rx="6" ry="7.5" fill="url(#glare)"/>
    <ellipse cx="935.8" cy="532" rx="7.5" ry="9" fill="url(#glare)"/>
    <!-- B label -->
    <rect x="732" y="300.1" width="30.9" height="28.4" fill="#d6dcec"/>
    <text x="741.6" y="320.8" font-size="16">B</text>
  </g>
</g>

<!-- ============ SECTION: labels ============ -->
<g id="labels">
  <rect x="13.8" y="15.6" width="28.6" height="28.7" fill="#d6dce9"/>
  <text x="22.2" y="35.4" font-size="16.8">A</text>
  <text x="100.4" y="35.9" font-size="22.5">Power source</text>
  <text x="440.8" y="34.2" font-size="22.55">Microfluidic chip</text>
  <text x="40" y="242.6" font-size="22.5">Amplifier</text>
  <text x="72.2" y="549" font-size="22.5">Function generator</text>
  <text x="905.6" y="175.2" font-size="20.2">UV Source</text>
  <text x="844.6" y="252" font-size="20.2">Microspheres</text>
  <text x="461.9" y="119" font-size="13.4">Inlet B</text>
  <text x="383.8" y="160" font-size="13.4">Inlet A</text>
  <text x="630.2" y="155.9" font-size="13.4">Outlet</text>
  <text x="815.7" y="120.4" font-size="13.3">Oil</text>
  <text x="498" y="308.5" font-size="13.3">Oil</text>
  <text x="498" y="520.1" font-size="13.3">Oil</text>
  <text x="411.5" y="411.9" font-size="13.3">Water</text>
  <text x="576.5" y="312.5" font-size="13.4">Counter Electrode</text>
  <text x="574.9" y="506.8" font-size="13.4">Counter Electrode</text>
  <text x="584" y="390.3" font-size="13.4">Droplets</text>
  <text x="496.7" y="440.8" font-size="13.4">Taylor cone</text>
</g>
</svg>
</body>
</html>
